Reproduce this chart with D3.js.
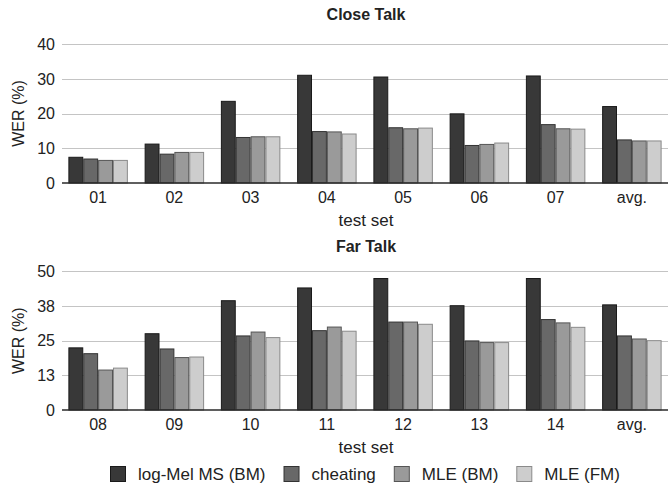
<!DOCTYPE html>
<html>
<head>
<meta charset="utf-8">
<script src="https://cdn.jsdelivr.net/npm/d3@7"></script>
<style>
  body { margin: 0; background: #fff; }
  text { font-family: "Liberation Sans", Arial, Helvetica, sans-serif; fill: #222; }
</style>
</head>
<body>
<div id="chart"></div>
<script>
// data
var testSetsClose = ['01', '02', '03', '04', '05', '06', '07', 'avg.'];
var testSetsFar = ['08', '09', '10', '11', '12', '13', '14', 'avg.'];
var seriesNames = ['log-Mel MS (BM)', 'cheating', 'MLE (BM)', 'MLE (FM)'];

var closeLogMel = [7.4, 11.2, 23.5, 31.0, 30.5, 19.9, 30.8, 22.0];
var closeCheating = [6.9, 8.3, 13.1, 14.8, 15.9, 10.8, 16.8, 12.4];
var closeMleBM = [6.5, 8.8, 13.3, 14.7, 15.6, 11.1, 15.6, 12.1];
var closeMleFM = [6.5, 8.8, 13.3, 14.1, 15.8, 11.5, 15.5, 12.1];

var farLogMel = [22.4, 27.5, 39.4, 44.0, 47.4, 37.6, 47.4, 37.9];
var farCheating = [20.3, 22.0, 26.7, 28.6, 31.7, 24.9, 32.6, 26.7];
var farMleBM = [14.4, 18.9, 28.1, 29.9, 31.7, 24.3, 31.4, 25.6];
var farMleFM = [15.1, 19.1, 26.1, 28.4, 30.9, 24.3, 29.8, 25.0];

var closeTicks = [0, 10, 20, 30, 40];
var farTicks = [0, 12.5, 25, 37.5, 50];

var fills = ['#383838', '#686868', '#9a9a9a', '#cdcdcd'];
var strokes = ['#1a1a1a', '#333333', '#555555', '#8a8a8a'];

var W = 668, H = 484;
var left = 62, right = 668;

var svg = d3.select("#chart").append("svg")
    .attr("width", W)
    .attr("height", H);

function drawPanel(title, cats, series, ticks, top, bottom, titleY, tickFmt) {
    var g = svg.append("g");

    var x = d3.scaleBand()
        .domain(cats)
        .range([60, 670])
        .paddingInner(0.22)
        .paddingOuter(0.11);

    var xs = d3.scaleBand()
        .domain(d3.range(series.length))
        .range([0, x.bandwidth()]);

    var y = d3.scaleLinear()
        .domain([ticks[0], ticks[ticks.length - 1]])
        .range([bottom, top]);

    // grid
    g.selectAll(".grid")
        .data(ticks.slice(1))
        .enter()
        .append("line")
        .attr("x1", left)
        .attr("x2", right)
        .attr("y1", function(d) { return Math.round(y(d)) + 0.5; })
        .attr("y2", function(d) { return Math.round(y(d)) + 0.5; })
        .style("stroke", "#c4c4c4")
        .style("stroke-width", 1);

    // y labels
    g.selectAll(".ylab")
        .data(ticks)
        .enter()
        .append("text")
        .attr("x", 55)
        .attr("y", function(d) { return y(d); })
        .attr("dy", "0.36em")
        .attr("text-anchor", "end")
        .style("font-size", "16px")
        .text(tickFmt);

    // bars
    cats.forEach(function(c, i) {
        series.forEach(function(s, j) {
            g.append("rect")
                .attr("x", x(c) + xs(j) + 0.5)
                .attr("y", y(s[i]))
                .attr("width", xs.bandwidth() - 1)
                .attr("height", y(0) - y(s[i]))
                .style("fill", fills[j])
                .style("stroke", strokes[j])
                .style("stroke-width", 1);
        });
    });

    // baseline
    g.append("line")
        .attr("x1", left)
        .attr("x2", right)
        .attr("y1", y(0))
        .attr("y2", y(0))
        .style("stroke", "#2a2a2a")
        .style("stroke-width", 1.6);

    // x labels
    g.selectAll(".xlab")
        .data(cats)
        .enter()
        .append("text")
        .attr("x", function(d) { return x(d) + x.bandwidth() / 2; })
        .attr("y", bottom + 20)
        .attr("text-anchor", "middle")
        .style("font-size", "16px")
        .text(function(d) { return d; });

    g.append("text")
        .attr("x", 366)
        .attr("y", bottom + 43)
        .attr("text-anchor", "middle")
        .style("font-size", "17px")
        .text("test set");

    g.append("text")
        .attr("x", 366)
        .attr("y", titleY)
        .attr("text-anchor", "middle")
        .style("font-size", "16px")
        .style("font-weight", "bold")
        .text(title);

    g.append("text")
        .attr("transform", "translate(24," + ((top + bottom) / 2) + ")rotate(-90)")
        .attr("text-anchor", "middle")
        .style("font-size", "16px")
        .text("WER (%)");
}

drawPanel("Close Talk", testSetsClose,
    [closeLogMel, closeCheating, closeMleBM, closeMleFM],
    closeTicks, 44, 183, 20, function(d) { return d; });

drawPanel("Far Talk", testSetsFar,
    [farLogMel, farCheating, farMleBM, farMleFM],
    farTicks, 271.3, 410, 252, function(d) { return Math.round(d); });

// legend
var lx = 110;
seriesNames.forEach(function(name, j) {
    svg.append("rect")
        .attr("x", lx + 0.5)
        .attr("y", 466.5)
        .attr("width", 15)
        .attr("height", 15)
        .style("fill", fills[j])
        .style("stroke", strokes[j])
        .style("stroke-width", 1);
    var t = svg.append("text")
        .attr("x", lx + 28)
        .attr("y", 480)
        .style("font-size", "17px")
        .text(name);
    lx = lx + 28 + t.node().getComputedTextLength() + 18;
});
</script>
</body>
</html>
